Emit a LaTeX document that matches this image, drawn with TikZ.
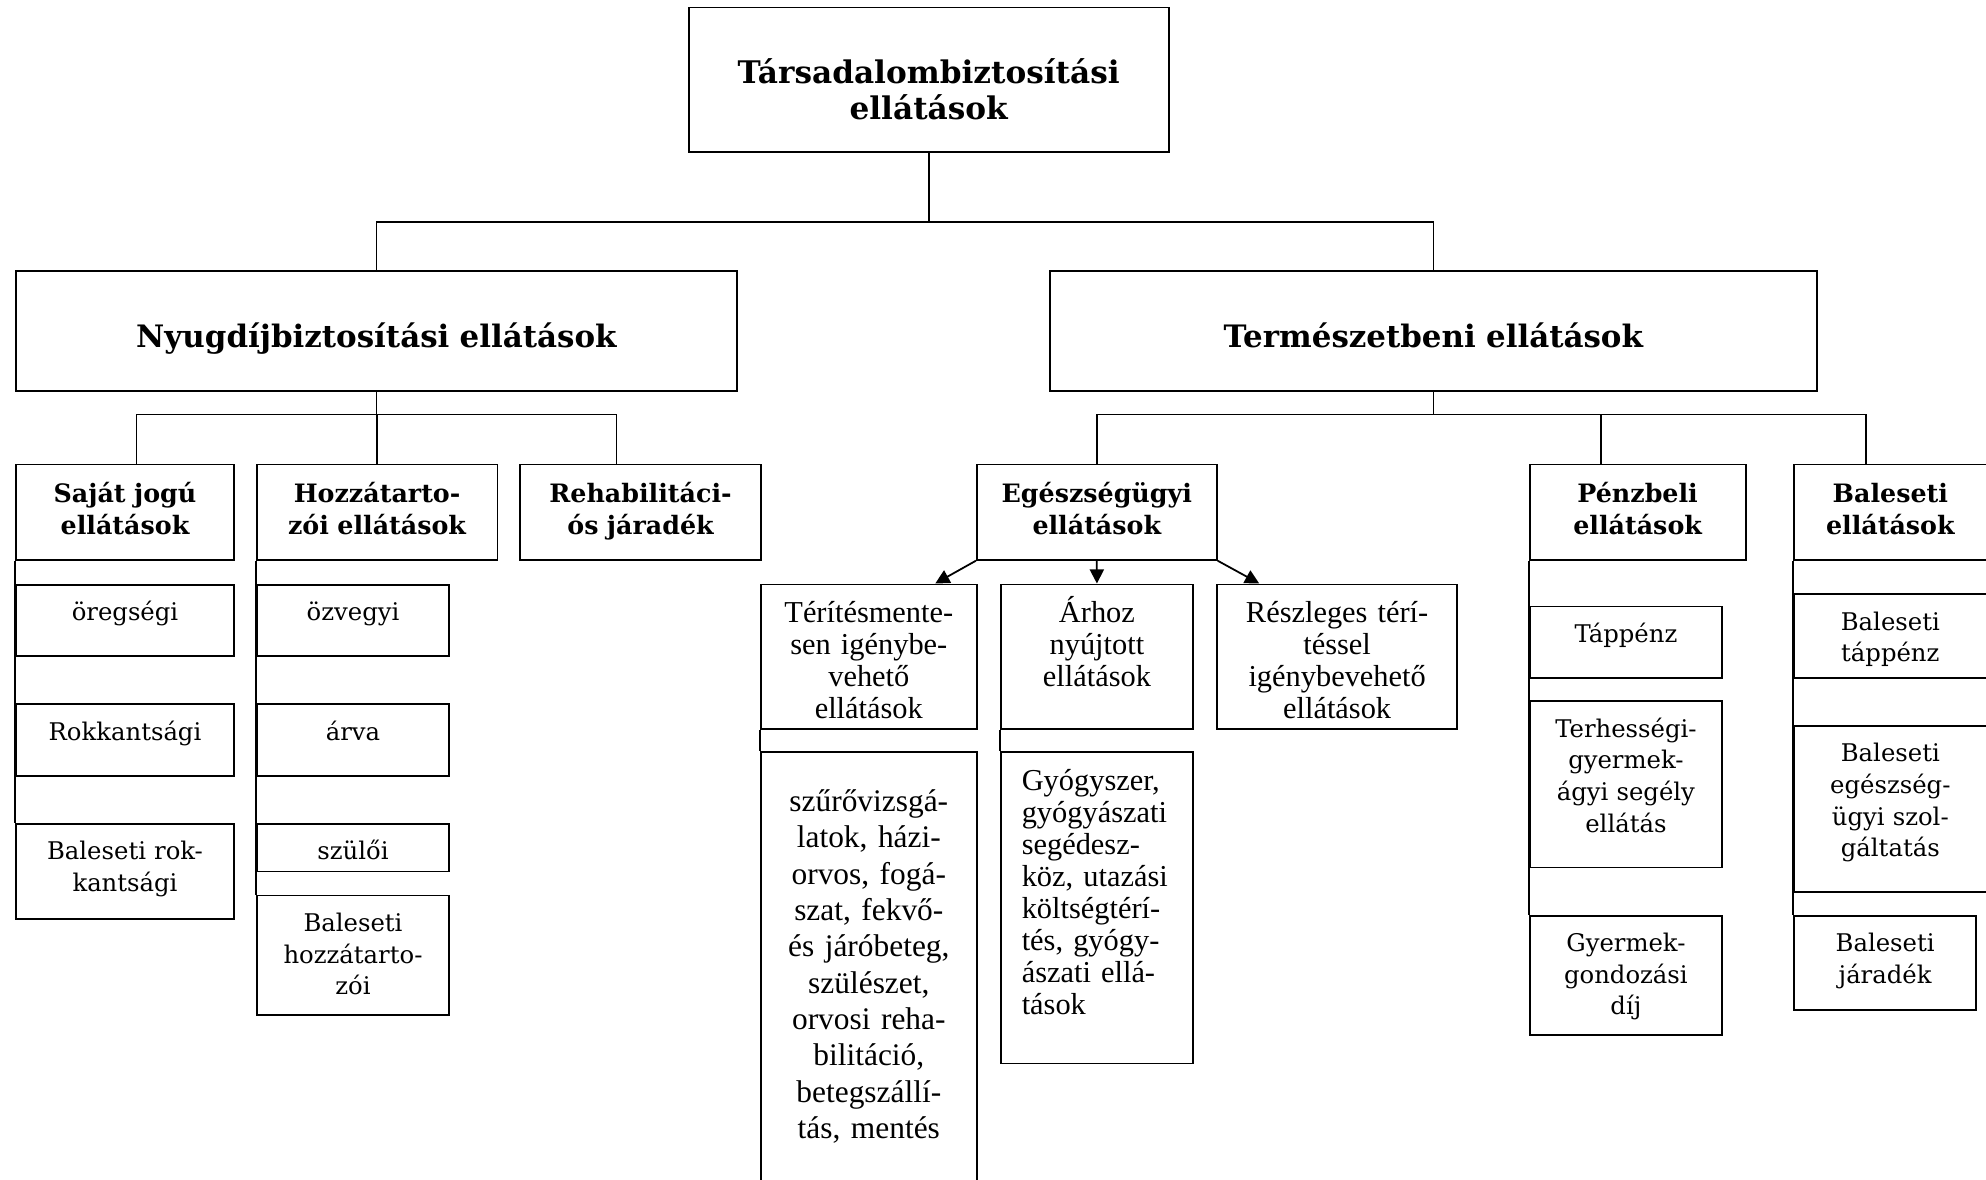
\documentclass[tikz,border=0pt]{standalone}
\usepackage{fontspec}
\setmainfont{DejaVu Serif}
\newfontfamily\timesfont{Liberation Serif}
\usetikzlibrary{arrows.meta}

\begin{document}
\begin{tikzpicture}[x=0.5pt, y=0.5pt,
    cell/.style={draw, line width=0.7pt, anchor=north west, align=center},
    root/.style={cell, font=\bfseries\fontsize{12.3}{14}\selectfont},
    branch/.style={cell, font=\bfseries\fontsize{12.2}{14}\selectfont, text height=30pt, text depth=17.3pt},
    head/.style={cell, font=\bfseries\fontsize{10}{12.35}\selectfont, text height=15.2pt, text depth=22.45pt},
    leaf/.style={cell, font=\fontsize{9.6}{12.5}\selectfont, text height=14.2pt},
    tleaf/.style={cell, font=\timesfont\fontsize{12}{12.65}\selectfont, text height=15.1pt},
    wire/.style={line width=0.7pt},
    arr/.style={line width=0.7pt, -{Triangle[length=5.6pt,width=5.6pt]}}]
  \tikzstyle{every node}+=[inner sep=0pt]
  \useasboundingbox (0,0) rectangle (1568,-931);
  \clip (0,0) rectangle (1568,-931);

  % top and the two branches
  \node [root, text width=189.5pt, text height=30pt, text depth=27pt] (tb) at (543,-5.3) {Társadalombiztosítási\\ellátások};
  \node [branch, text width=284.5pt] (nyug) at (12,-213.4) {Nyugdíjbiztosítási ellátások};
  \node [branch, text width=303pt] (termesz) at (828,-213.4) {Természetbeni ellátások};

  % third level
  \node [head, text width=86pt] (sajat) at (12,-366) {Saját jogú\\ellátások};
  \node [head, text width=95pt] (hozz) at (202,-366) {Hozzátarto-\\zói ellátások};
  \node [head, text width=95pt] (rehab) at (410,-366) {Rehabilitáci-\\ós járadék};
  \node [head, text width=94.75pt] (egesz) at (770.5,-366) {Egészségügyi\\ellátások};
  \node [head, text width=85.25pt] (penz) at (1207,-366) {Pénzbeli\\ellátások};
  \node [head, text width=76.05pt] (bal) at (1415.7,-366) {Baleseti\\ellátások};

  % nyugdij leaves
  \node [leaf, text width=86pt, text depth=14.05pt] (oreg) at (12,-461) {öregségi};
  \node [leaf, text width=86pt, text depth=14.2pt] (rokk) at (12,-555.2) {Rokkantsági};
  \node [leaf, text width=86pt, text depth=23.45pt] (balrok) at (12,-649.7) {Baleseti rok-\\kantsági};
  \node [leaf, text width=76pt, text depth=14.05pt] (ozv) at (202,-461) {özvegyi};
  \node [leaf, text width=76pt, text depth=14.2pt] (arva) at (202,-555.2) {árva};
  \node [leaf, text width=76pt, text depth=4.65pt] (szuloi) at (202,-649.7) {szülői};
  \node [leaf, text width=76pt, text depth=32.8pt] (balhozz) at (202,-706.4) {Baleseti\\hozzátarto-\\zói};

  % egeszsegugyi leaves
  \node [tleaf, text width=85.25pt, text depth=41.9pt] (terit) at (600,-460.7) {Térítésmente-\\sen igénybe-\\vehető\\ellátások};
  \node [tleaf, text width=75.85pt, text depth=41.9pt] (arhoz) at (789.5,-460.7) {Árhoz\\nyújtott\\ellátások};
  \node [tleaf, text width=94.8pt, text depth=41.9pt] (reszl) at (960.2,-460.7) {Részleges térí-\\téssel\\igénybevehető\\ellátások};
  \node [tleaf, font=\timesfont\fontsize{12.4}{14.35}\selectfont, text width=85.25pt, text height=23.3pt, text depth=150pt] (szuro) at (600,-593.3) {szűrővizsgá-\\latok, házi-\\orvos, fogá-\\szat, fekvő-\\és járóbeteg,\\szülészet,\\orvosi reha-\\bilitáció,\\betegszállí-\\tás, mentés};
  \node [tleaf, align=left, inner xsep=8.25pt, text width=59.35pt, text height=14.9pt, text depth=107.95pt] (gyogy) at (789.5,-593.3) {Gyógyszer,\\gyógyászati\\segédesz-\\köz, utazási\\költségtérí-\\tés, gyógy-\\ászati ellá-\\tások};

  % penzbeli and baleseti leaves
  \node [leaf, text width=76pt, text depth=13.9pt] (tapp) at (1207,-478.1) {Táppénz};
  \node [leaf, text width=76pt, text depth=51.45pt] (terh) at (1207,-552.9) {Terhességi-\\gyermek-\\ágyi segély\\ellátás};
  \node [leaf, text width=76pt, text depth=32.8pt] (gyerm) at (1207,-722.2) {Gyermek-\\gondozási\\díj};
  \node [leaf, text width=76.05pt, text depth=18.7pt] (baltapp) at (1415.7,-468.5) {Baleseti\\táppénz};
  \node [leaf, text width=76.05pt, text depth=51.3pt] (balegesz) at (1415.7,-572.4) {Baleseti\\egészség-\\ügyi szol-\\gáltatás};
  \node [leaf, text width=71.95pt, text depth=23.2pt] (baljar) at (1415.7,-722.2) {Baleseti\\járadék};

  % tree lines
  \coordinate (bar1) at (0,-175.4);
  \coordinate (bar2) at (0,-327.3);
  \draw [wire] (tb.south) -- (tb.south |- bar1);
  \draw [wire] (nyug.north) |- (bar1 -| termesz.north) -- (termesz.north);
  \draw [wire] (nyug.south) -- (nyug.south |- bar2);
  \coordinate (sajattop) at ([xshift=4.5pt]sajat.north);
  \coordinate (rehabtop) at ([xshift=-9.5pt]rehab.north);
  \draw [wire] (sajattop) |- (bar2 -| rehabtop) -- (rehabtop);
  \draw [wire] (hozz.north) -- (hozz.north |- bar2);
  \draw [wire] (termesz.south) -- (termesz.south |- bar2);
  \coordinate (penztop) at ([xshift=-14.6pt]penz.north);
  \coordinate (baltop) at ([xshift=-9.6pt]bal.north);
  \draw [wire] (egesz.north) |- (bar2 -| baltop) -- (baltop);
  \draw [wire] (penztop) -- (penztop |- bar2);

  % left rails
  \draw [wire] (sajat.south west) -- (balrok.north west);
  \draw [wire] (hozz.south west) -- (balhozz.north west);
  \draw [wire] (terit.south west) -- (szuro.north west);
  \draw [wire] (arhoz.south west) -- (gyogy.north west);
  \draw [wire] (penz.south west) -- (gyerm.north west);
  \draw [wire] (bal.south west) -- (baljar.north west);

  % arrows
  \draw [arr] (egesz.south west) -- ([xshift=-16.75pt]terit.north east);
  \draw [arr] (egesz.south) -- (arhoz.north);
  \draw [arr] (egesz.south east) -- ([xshift=17pt]reszl.north west);
\end{tikzpicture}
\end{document}
